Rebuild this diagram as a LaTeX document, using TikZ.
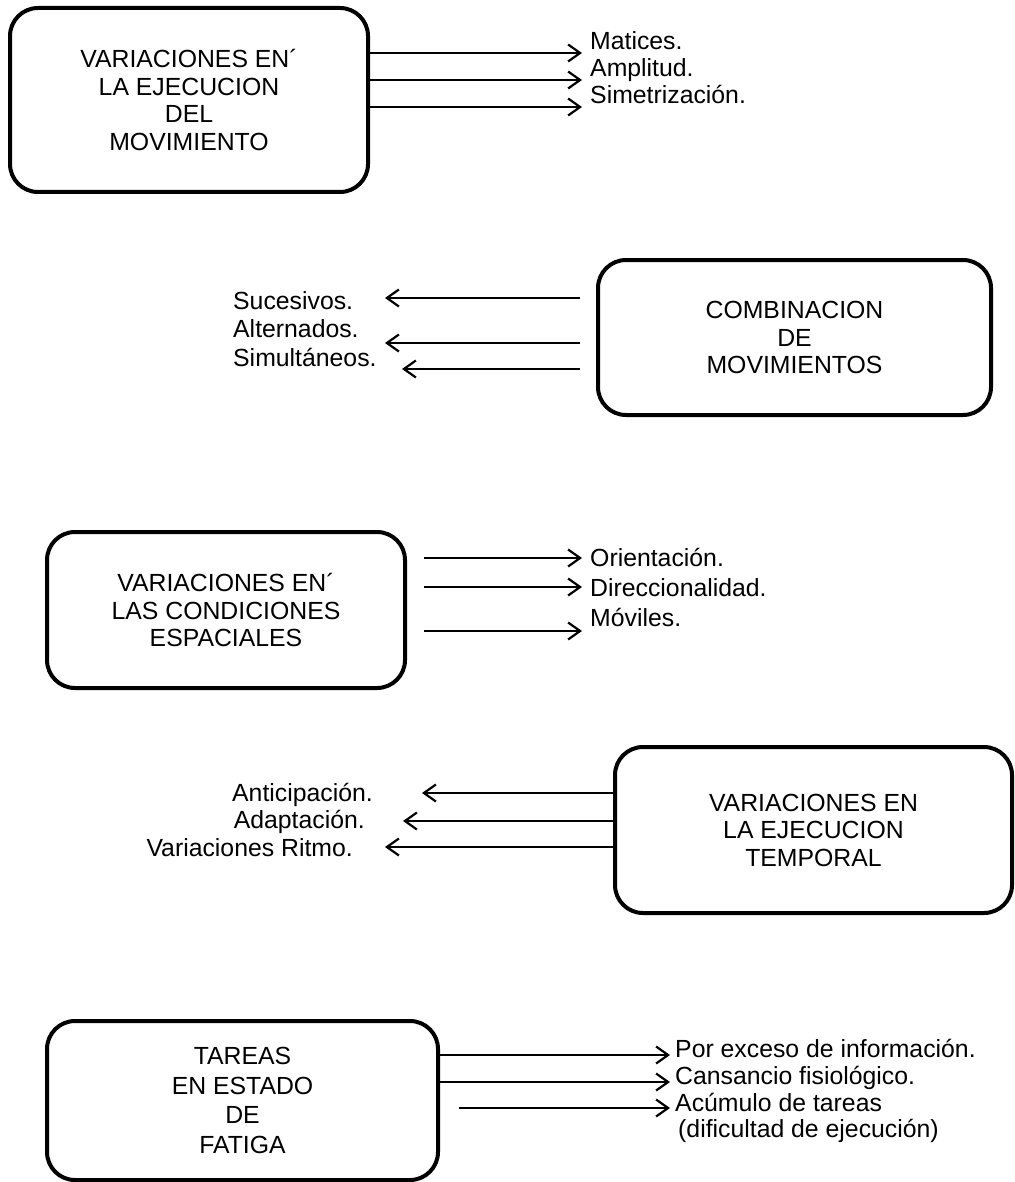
\documentclass[tikz,border=0pt]{standalone}
\usepackage{fontspec}
\setmainfont{Liberation Sans}
\usetikzlibrary{calc, arrows.meta}
\tikzset{caja/.style={draw, line width=4pt, rounded corners=28pt, align=center, inner sep=0pt}}
\tikzset{lista/.style={inner sep=0pt, anchor=base west}}
\tikzset{flecha/.style={line width=2.2pt, -{Straight Barb[length=12pt, width=17pt]}}}

\begin{document}
\begin{tikzpicture}[x=1pt, y=-1pt, font=\fontsize{24.8}{27.5}\selectfont]
  \useasboundingbox (0,0) rectangle (1014,1182);

  \node[caja, minimum width=358pt, minimum height=184pt] (c1) at (189,100)
    {VARIACIONES EN´\\LA EJECUCION\\DEL\\MOVIMIENTO};
  \node[lista] (a1) at (590,50)  {Matices.};
  \node[lista] (a2) at (590,77)  {Amplitud.};
  \node[lista] (a3) at (590,104) {Simetrización.};
  \draw[flecha] ($(c1.east |- a1.base)+(0,3)$) -- ($(a1.base west)+(-8,3)$);
  \draw[flecha] ($(c1.east |- a2.base)+(0,3)$) -- ($(a2.base west)+(-8,3)$);
  \draw[flecha] ($(c1.east |- a3.base)+(0,3)$) -- ($(a3.base west)+(-8,3)$);

  \node[caja, minimum width=393pt, minimum height=155pt] (c2) at (794.5,337.5)
    {COMBINACION\\DE\\MOVIMIENTOS};
  \node[lista] (s1) at (233,309) {Sucesivos.};
  \node[lista] (s2) at (233,337) {Alternados.};
  \node[lista] (s3) at (233,366) {Simultáneos.};
  \coordinate (f1) at (385,298);
  \coordinate (f2) at (385,343);
  \coordinate (f3) at (402,369);
  \draw[flecha] ($(c2.west |- f1)+(-16,0)$) -- (f1);
  \draw[flecha] ($(c2.west |- f2)+(-16,0)$) -- (f2);
  \draw[flecha] ($(c2.west |- f3)+(-16,0)$) -- (f3);

  \node[caja, minimum width=358pt, minimum height=156pt] (c3) at (226,610)
    {VARIACIONES EN´\\LAS CONDICIONES\\ESPACIALES};
  \node[lista] (o1) at (590,566) {Orientación.};
  \node[lista] (o2) at (590,596) {Direccionalidad.};
  \node[lista] (o3) at (590,626) {Móviles.};
  \draw[flecha] ($(c3.east |- o1.base)+(17,-8)$) -- ($(o1.base west)+(-8,-8)$);
  \draw[flecha] ($(c3.east |- o2.base)+(17,-9)$) -- ($(o2.base west)+(-8,-9)$);
  \draw[flecha] ($(c3.east |- o3.base)+(17,5)$)  -- ($(o3.base west)+(-8,5)$);

  \node[caja, minimum width=397pt, minimum height=166pt] (c4) at (813.5,830)
    {VARIACIONES EN\\LA EJECUCION\\TEMPORAL};
  \node[lista, anchor=base east] (t1) at (373,801) {Anticipación.};
  \node[lista, anchor=base east] (t2) at (365,828) {Adaptación.};
  \node[lista, anchor=base east] (t3) at (353,856) {Variaciones Ritmo.};
  \coordinate (g1) at (422,793);
  \coordinate (g2) at (403,821);
  \coordinate (g3) at (385,847);
  \draw[flecha] (c4.west |- g1) -- (g1);
  \draw[flecha] (c4.west |- g2) -- (g2);
  \draw[flecha] (c4.west |- g3) -- (g3);

  \node[caja, minimum width=391pt, minimum height=159pt, font=\fontsize{24.8}{29.5}\selectfont] (c5) at (242.5,1100.5)
    {TAREAS\\EN ESTADO\\DE\\FATIGA};
  \node[lista] (e1) at (675,1057) {Por exceso de información.};
  \node[lista] (e2) at (675,1084) {Cansancio fisiológico.};
  \node[lista] (e3) at (675,1111) {Acúmulo de tareas};
  \node[lista] (e4) at (678,1137) {(dificultad de ejecución)};
  \draw[flecha] ($(c5.east |- e1.base)+(0,-2)$)  -- ($(e1.base west)+(-5,-2)$);
  \draw[flecha] ($(c5.east |- e2.base)+(0,-2)$)  -- ($(e2.base west)+(-5,-2)$);
  \draw[flecha] ($(c5.east |- e3.base)+(19,-3)$) -- ($(e3.base west)+(-5,-3)$);

\end{tikzpicture}
\end{document}
